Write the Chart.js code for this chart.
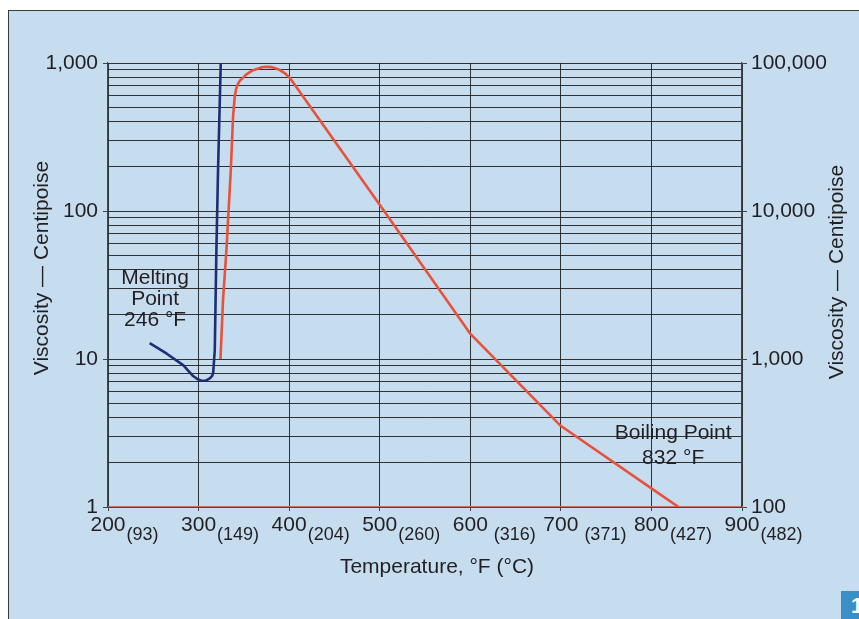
<!DOCTYPE html>
<html>
<head>
<meta charset="utf-8">
<script src="https://cdn.jsdelivr.net/npm/chart.js@4/dist/chart.umd.min.js"></script>
<style>
  html, body { margin: 0; padding: 0; background: #ffffff; }
  #wrap { position: relative; width: 859px; height: 619px; overflow: hidden; }
  #panel { position: absolute; left: 8px; top: 10px; right: 0; bottom: 0;
           background: #c6ddf0; border-left: 1.5px solid #3a3a3a; border-top: 1.5px solid #3a3a3a; }
  #badge { position: absolute; left: 841px; top: 591px; width: 30px; height: 30px; background: #3c8fc6;
           color: #ffffff; font: bold 22px "Liberation Sans", Arial, sans-serif; line-height: 30px; padding-left: 10px; box-sizing: border-box; }
  canvas { position: absolute; left: 0; top: 0; }
</style>
</head>
<body>
<div id="wrap">
  <div id="panel"></div>
  <div id="badge">1</div>
  <canvas id="c" width="859" height="619"></canvas>
</div>
<script>
// ---- Data ----
const xTicksF = [200, 300, 400, 500, 600, 700, 800, 900];
const xTicksC = ['(93)', '(149)', '(204)', '(260)', ' (316)', ' (371)', '(427)', '(482)'];

const leftTickValues = [1,2,3,4,5,6,7,8,9,10,20,30,40,50,60,70,80,90,100,200,300,400,500,600,700,800,900,1000];
const leftMajor = [1, 10, 100, 1000];
const leftMajorLabels = ['1', '10', '100', '1,000'];
const rightMajor = [100, 1000, 10000, 100000];
const rightMajorLabels = ['100', '1,000', '10,000', '100,000'];

// Blue curve (left axis, centipoise)
const blueTemp = [246, 264.5, 283, 294, 299, 303, 308, 312.4, 315, 316.1, 317.9, 319.7, 321.5, 324.5];
const blueVisc = [12.8, 10.9, 9.1, 7.67, 7.3, 7.13, 7.15, 7.4, 7.7, 8.0, 11.5, 55, 190, 1000];

// Red curve (right axis, centipoise)
const redTemp = [324.2, 327, 330.8, 335.6, 338.1, 340, 341.5, 343.6, 346, 349.2, 352.5, 356.6, 361, 366, 370, 375, 380, 385, 389.7, 395, 400.7, 500, 599.6, 699, 800.4, 830];
const redVisc = [1000, 2500, 5500, 19000, 43700, 59700, 67000, 72500, 76500, 79600, 83500, 86800, 89800, 91900, 93500, 94400, 93800, 92000, 89600, 85500, 79600, 11000, 1490, 357, 133, 100];

const meltingLines = ['Melting', 'Point', '246 °F'];
const meltingAnchor = [252, 25.5];
const boilingLines = ['Boiling Point', '832 °F'];
const boilingAnchor = [824, 2.6];

const xTitle = 'Temperature, °F (°C)';
const yTitle = 'Viscosity — Centipoise';

// ---- Helpers ----
const FONT = '"Liberation Sans", Arial, Helvetica, sans-serif';
const TEXT = '#231f20';
const GRID = 'rgba(30,30,30,0.9)';
const zip = (xs, ys) => xs.map((x, i) => ({ x: x, y: ys[i] }));

const textPlugin = {
  id: 'customTexts',
  afterDraw(chart) {
    const ctx = chart.ctx;
    const x = chart.scales.x, y = chart.scales.y;
    ctx.save();
    ctx.fillStyle = TEXT;
    // x tick labels with Celsius subscripts
    xTicksF.forEach((f, i) => {
      const px = x.getPixelForValue(f);
      const main = String(f);
      ctx.font = '21px ' + FONT;
      ctx.textAlign = 'center';
      ctx.textBaseline = 'middle';
      ctx.fillText(main, px, x.top + 18);
      const w = ctx.measureText(main).width;
      ctx.font = '18px ' + FONT;
      ctx.textAlign = 'left';
      ctx.fillText(xTicksC[i], px + w / 2 + 1, x.top + 28);
    });
    // x title
    ctx.font = '21px ' + FONT;
    ctx.textAlign = 'center';
    ctx.textBaseline = 'middle';
    ctx.fillText(xTitle, (chart.chartArea.left + chart.chartArea.right) / 2 + 12, x.top + 60);
    // y titles
    ctx.save();
    ctx.translate(42, 268);
    ctx.rotate(-Math.PI / 2);
    ctx.fillText(yTitle, 0, 0);
    ctx.restore();
    ctx.save();
    ctx.translate(837, 272);
    ctx.rotate(-Math.PI / 2);
    ctx.fillText(yTitle, 0, 0);
    ctx.restore();
    // annotations
    ctx.font = '21px ' + FONT;
    const mx = x.getPixelForValue(meltingAnchor[0]);
    const my = y.getPixelForValue(meltingAnchor[1]);
    meltingLines.forEach((t, i) => ctx.fillText(t, mx, my + (i - 1) * 21));
    const bx = x.getPixelForValue(boilingAnchor[0]);
    const by = y.getPixelForValue(boilingAnchor[1]);
    boilingLines.forEach((t, i) => ctx.fillText(t, bx, by + (i - 0.5) * 25));
    ctx.restore();
  }
};

const majorTickColor = (ctx, color) =>
  (ctx.tick && Math.abs(Math.log10(ctx.tick.value) - Math.round(Math.log10(ctx.tick.value))) < 1e-9) ? color : 'transparent';

new Chart(document.getElementById('c'), {
  type: 'line',
  data: {
    datasets: [
      { data: zip(blueTemp, blueVisc), yAxisID: 'y', borderColor: '#1f2d72', borderWidth: 2.6,
        pointRadius: 0, tension: 0, borderJoinStyle: 'round', fill: false },
      { data: zip(redTemp, redVisc), yAxisID: 'y2', borderColor: '#e8523a', borderWidth: 2.6,
        pointRadius: 0, tension: 0, borderJoinStyle: 'round', fill: false }
    ]
  },
  options: {
    responsive: false,
    animation: false,
    devicePixelRatio: 1,
    layout: { padding: { top: 63, left: 0, right: 0, bottom: 0 } },
    plugins: { legend: { display: false }, tooltip: { enabled: false } },
    scales: {
      x: {
        type: 'linear', min: 200, max: 900,
        ticks: { display: false, stepSize: 100 },
        afterBuildTicks: (s) => { s.ticks = xTicksF.map(v => ({ value: v })); },
        afterFit: (s) => { s.height = 112; },
        grid: { color: GRID, lineWidth: 1, tickLength: 4, tickColor: '#444' },
        border: { color: '#c9705e', width: 1.2 }
      },
      y: {
        type: 'logarithmic', position: 'left', min: 1, max: 1000,
        afterBuildTicks: (s) => { s.ticks = leftTickValues.map(v => ({ value: v })); },
        afterFit: (s) => { s.width = 108; },
        ticks: {
          autoSkip: false, padding: 5, color: TEXT, font: { family: FONT, size: 21 },
          callback: (v) => { const i = leftMajor.indexOf(v); return i >= 0 ? leftMajorLabels[i] : ''; }
        },
        grid: { color: GRID, lineWidth: 1, tickLength: 5, tickColor: (c) => majorTickColor(c, '#444') },
        border: { color: '#2e4f5c', width: 1.2 }
      },
      y2: {
        type: 'logarithmic', position: 'right', min: 100, max: 100000,
        afterBuildTicks: (s) => { s.ticks = rightMajor.map(v => ({ value: v })); },
        afterFit: (s) => { s.width = 117; },
        ticks: {
          autoSkip: false, padding: 4, color: TEXT, font: { family: FONT, size: 21 },
          callback: (v) => { const i = rightMajor.indexOf(v); return i >= 0 ? rightMajorLabels[i] : ''; }
        },
        grid: { drawOnChartArea: false, tickLength: 5, tickColor: '#444' },
        border: { color: '#5a3b33', width: 1.2 }
      }
    }
  },
  plugins: [textPlugin]
});
</script>
</body>
</html>
